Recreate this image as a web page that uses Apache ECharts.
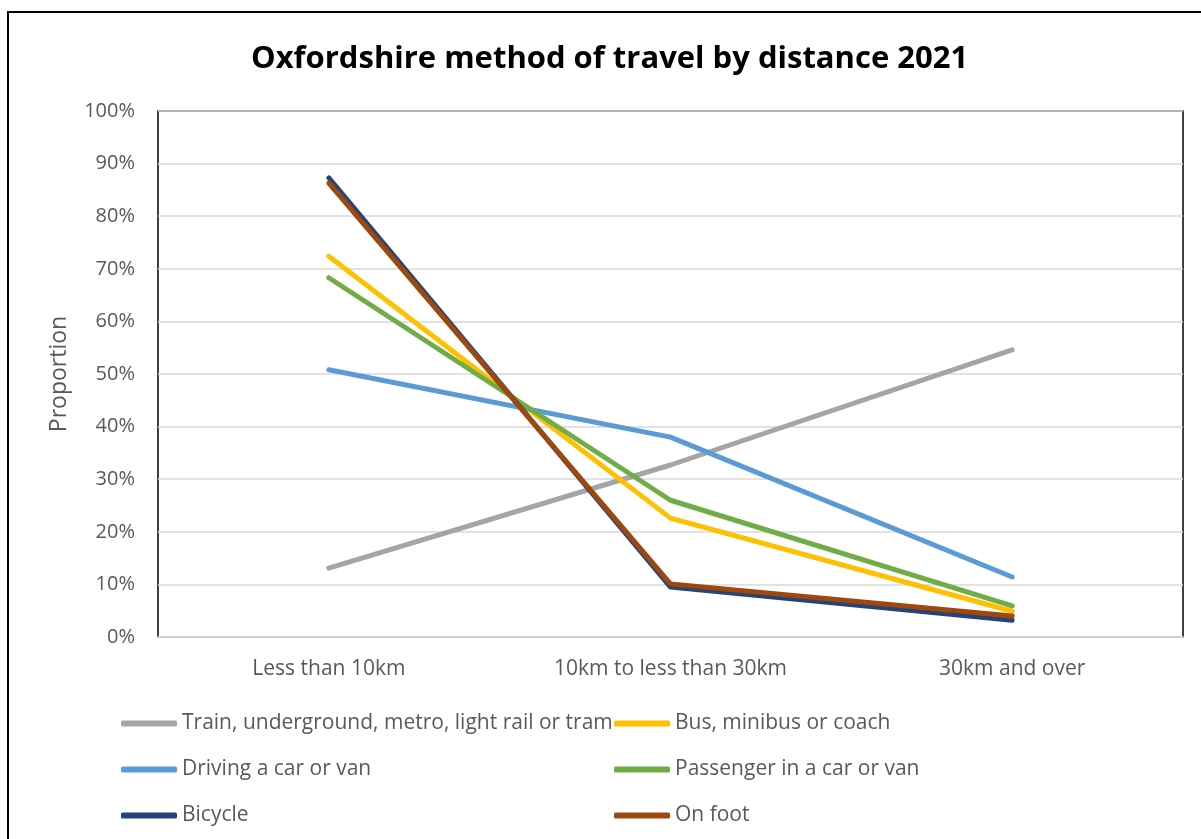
<!DOCTYPE html>
<html>
<head>
<meta charset="utf-8">
<script src="https://cdn.jsdelivr.net/npm/echarts@6/dist/echarts.min.js"></script>
<style>
  html, body { margin: 0; padding: 0; background: #fff; }
  #chart { width: 1201px; height: 839px; }
</style>
</head>
<body>
<div id="chart"></div>
<script>
// 数据
var categories = ["Less than 10km", "10km to less than 30km", "30km and over"];
var train = [13.1, 32.7, 54.6];
var bus = [72.4, 22.6, 4.9];
var driving = [50.8, 38.0, 11.4];
var passenger = [68.3, 26.0, 5.9];
var bicycle = [87.3, 9.5, 3.2];
var onFoot = [86.3, 10.1, 4.0];
var yTicks = [0, 10, 20, 30, 40, 50, 60, 70, 80, 90, 100];

var font = "'Open Sans', Lato, sans-serif";

function line(name, data, color) {
  return {
    name: name,
    type: "line",
    data: data,
    symbol: "none",
    lineStyle: { width: 5, color: color, cap: "round", join: "round" },
    itemStyle: { color: color }
  };
}

var chart = echarts.init(document.getElementById("chart"));
chart.setOption({
  animation: false,
  title: {
    text: "Oxfordshire method of travel by distance 2021",
    left: 246,
    top: 39,
    textStyle: { fontFamily: font, fontSize: 31, fontWeight: "bold", color: "#000" }
  },
  graphic: [
    {
      type: "rect",
      shape: { x: 8, y: 12, width: 1210, height: 850 },
      style: { fill: "none", stroke: "#000", lineWidth: 2 },
      silent: true
    }
  ],
  grid: {
    left: 158,
    right: 18,
    top: 111,
    bottom: 202,
    show: true,
    borderColor: "#000",
    borderWidth: 1.5
  },
  legend: [
    {
      orient: "vertical",
      left: 121,
      top: 713,
      padding: 0,
      itemWidth: 56,
      itemHeight: 6,
      itemGap: 25,
      icon: "roundRect",
      data: ["Train, underground, metro, light rail or tram", "Driving a car or van", "Bicycle"],
      textStyle: { fontFamily: font, fontSize: 21, lineHeight: 21, color: "#595959" }
    },
    {
      orient: "vertical",
      left: 614,
      top: 713,
      padding: 0,
      itemWidth: 56,
      itemHeight: 6,
      itemGap: 25,
      icon: "roundRect",
      data: ["Bus, minibus or coach", "Passenger in a car or van", "On foot"],
      textStyle: { fontFamily: font, fontSize: 21, lineHeight: 21, color: "#595959" }
    }
  ],
  xAxis: {
    type: "category",
    data: categories,
    boundaryGap: true,
    axisLine: { lineStyle: { color: "#d9d9d9", width: 1.5 } },
    axisTick: { show: false },
    axisLabel: { fontFamily: font, fontSize: 21, color: "#595959", margin: 22 }
  },
  yAxis: {
    type: "value",
    min: 0,
    max: 100,
    interval: 10,
    name: "Proportion",
    nameLocation: "middle",
    nameGap: 87,
    nameTextStyle: { fontFamily: font, fontSize: 23, color: "#595959" },
    axisLine: { show: false },
    axisTick: { show: false },
    splitLine: { lineStyle: { color: "#d9d9d9", width: 1.5 } },
    axisLabel: {
      fontFamily: font,
      fontSize: 20,
      color: "#595959",
      margin: 23,
      formatter: function (v) { return yTicks.indexOf(v) >= 0 ? v + "%" : ""; }
    }
  },
  series: [
    line("Train, underground, metro, light rail or tram", train, "#A5A5A5"),
    line("Bus, minibus or coach", bus, "#FFC000"),
    line("Driving a car or van", driving, "#5B9BD5"),
    line("Passenger in a car or van", passenger, "#70AD47"),
    line("Bicycle", bicycle, "#264478"),
    line("On foot", onFoot, "#9E480E")
  ]
});
</script>
</body>
</html>
